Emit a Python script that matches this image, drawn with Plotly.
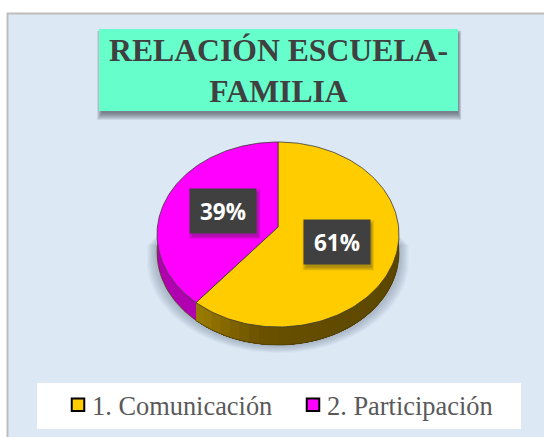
import numpy as np
import plotly.graph_objects as go

# --- data ---
categories = ["1. Comunicación", "2. Participación"]
values = [61, 39]
colors = ["#FFCC00", "#FF00FF"]
chart_title = "RELACIÓN ESCUELA-<br>FAMILIA"

# --- pie geometry: perspective projection of a tilted disc (page pixels) ---
CX, CY, A, B, P, DEPTH = 278.0, 227.0, 120.6, 91.9, 0.081, 18.0

def project(theta, r=1.0):
    """theta measured clockwise from 12 o'clock, r is a fraction of the radius."""
    u, v = r * np.sin(theta), -r * np.cos(theta)
    d = 1 - P * v
    return CX + A * u / d, CY + B * v / d

fractions = np.array(values) / sum(values)
edges = np.concatenate([[0], np.cumsum(fractions)]) * 2 * np.pi

fig = go.Figure()

# soft shadow below the pie
arc = np.linspace(np.pi * 0.5, np.pi * 1.5, 90)
for i in range(9):
    grow = 10 - i
    ax, ay = project(arc)
    sx = CX + (ax - CX) * (1 + grow / 120)
    sy = ay + DEPTH + grow * 0.8
    sx = np.concatenate([[sx[0]], sx, [sx[-1]]])
    sy = np.concatenate([[CY + 8 + grow], sy, [CY + 8 + grow]])
    fig.add_trace(go.Scatter(x=sx, y=sy, mode="lines", fill="toself",
                             fillcolor="rgba(95,115,135,0.05)",
                             line=dict(width=0), hoverinfo="skip", showlegend=False))

# side wall: overlapping segments painted in order, so the shade varies along the rim
def wall_color(k, x):
    if k == 1:
        return "#B000B0"
    t = np.clip((x - 195) / 70, 0, 1)
    t2 = np.clip((x - 265) / 130, 0, 1)
    r = 160 + (106 - 160) * t + (92 - 106) * t2
    g = 128 + (81 - 128) * t + (71 - 81) * t2
    return f"rgb({r:.0f},{g:.0f},0)"

for k in range(len(values)):
    lo = max(edges[k], np.pi * 0.5)
    hi = min(edges[k + 1], np.pi * 1.5)
    if hi <= lo:
        continue
    steps = np.linspace(lo, hi, 30)[:-1] if k == 0 else [lo]
    for a0 in steps:
        seg = np.linspace(a0, hi, 60)
        xs, ys = project(seg)
        head = project(a0)[0]
        fig.add_trace(go.Scatter(
            x=np.concatenate([xs, xs[::-1]]),
            y=np.concatenate([ys, ys[::-1] + DEPTH]),
            mode="lines", fill="toself",
            fillcolor=wall_color(k, head),
            line=dict(width=0),
            hoverinfo="skip", showlegend=False))

# outer outline of the wall
rim = np.linspace(np.pi * 0.5, np.pi * 1.5, 90)
rx, ry = project(rim)
fig.add_trace(go.Scatter(x=rx, y=ry + DEPTH, mode="lines",
                         line=dict(width=0.7, color="#4a3a00"),
                         hoverinfo="skip", showlegend=False))

# top face wedges
for k, (name, color) in enumerate(zip(categories, colors)):
    th = np.linspace(edges[k], edges[k + 1], 160)
    xs, ys = project(th)
    fig.add_trace(go.Scatter(
        x=np.concatenate([[CX], xs, [CX]]),
        y=np.concatenate([[CY], ys, [CY]]),
        mode="lines", fill="toself", fillcolor=color,
        line=dict(width=0.8, color="#3a3a3a"),
        name=name, text=[f"{values[k]}%"] * 162,
        hovertemplate="%{text}<extra>" + name + "</extra>", showlegend=False))

# legend entries
for name, color in zip(categories, colors):
    fig.add_trace(go.Scatter(x=[None], y=[None], mode="markers", name=name,
                             marker=dict(symbol="square", size=12.5, color=color,
                                         line=dict(color="#000000", width=2))))

shapes = [
    # chart frame
    dict(type="rect", x0=7.5, y0=13.5, x1=560, y1=450, layer="below",
         fillcolor="#DDE8F5", line=dict(color="#BDBDBD", width=2)),
    # legend box
    dict(type="rect", x0=37, y0=383, x1=521, y1=429, layer="below",
         fillcolor="#FFFFFF", line=dict(width=0)),
]
# title box shadow
for i in range(8):
    g = 7 - i
    shapes.append(dict(type="rect", x0=102 - g * 0.7, y0=34 - g * 0.5, x1=458 + g * 0.45,
                       y1=113 + g, layer="below",
                       fillcolor="rgba(50,55,70,0.10)", line=dict(width=0)))
# title box
shapes.append(dict(type="rect", x0=99, y0=29, x1=458, y1=111, layer="below",
                   fillcolor="#66FFCC", line=dict(width=0)))

# data labels at half radius of each slice's mid angle
annotations = []
BW, BH = 64, 42
for k, v in enumerate(values):
    mid = (edges[k] + edges[k + 1]) / 2
    lx, ly = project(mid, 0.5)
    lx, ly = float(lx) + 1, float(ly) - 0.5
    for i in range(5):
        g = 4 - i
        shapes.append(dict(type="rect", x0=lx - BW / 2 + 2 - g, y0=ly - BH / 2 + 3 - g,
                           x1=lx + BW / 2 + 3 + g * 0.6, y1=ly + BH / 2 + 4 + g * 0.8,
                           layer="above", fillcolor="rgba(40,40,40,0.09)", line=dict(width=0)))
    annotations.append(dict(x=lx, y=ly, xref="x", yref="y", text=f"<b>{v}%</b>",
                            showarrow=False, width=BW, height=BH, bgcolor="#404040",
                            font=dict(family="Open Sans", size=22.5, color="#FFFFFF"),
                            align="center", valign="middle"))

fig.update_layout(
    width=544, height=437,
    margin=dict(l=0, r=0, t=0, b=0),
    paper_bgcolor="#FFFFFF", plot_bgcolor="rgba(0,0,0,0)",
    xaxis=dict(range=[0, 544], visible=False, fixedrange=True, domain=[0, 1]),
    yaxis=dict(range=[437, 0], visible=False, fixedrange=True, domain=[0, 1]),
    title=dict(text=f"<b>{chart_title}</b>", x=278.5 / 544, xanchor="center", xref="paper",
               y=1 - 61 / 437, yanchor="middle", yref="container",
               font=dict(family="Liberation Serif", size=31.7, color="#404040")),
    legend=dict(orientation="h", x=52 / 544, xanchor="left", y=1 - 405 / 437, yanchor="middle",
                bgcolor="rgba(0,0,0,0)", borderwidth=0, entrywidth=190, entrywidthmode="pixels",
                font=dict(family="Liberation Serif", size=26.4, color="#595959")),
    shapes=shapes, annotations=annotations,
)
fig.write_html("out.html", config=dict(displayModeBar=False),
               post_script="document.body.style.margin='0';document.body.style.overflow='hidden';"
                           "document.querySelectorAll('.legendsymbols').forEach(function(g){g.style.transform='translateX(6px)';});")
